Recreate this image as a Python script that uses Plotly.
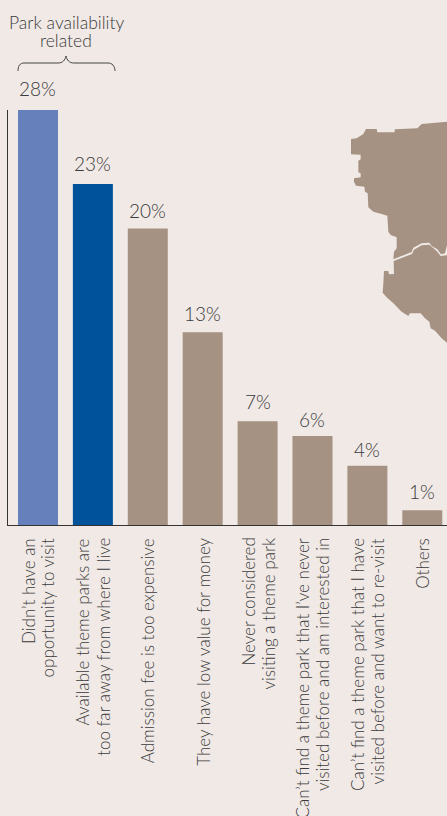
import plotly.graph_objects as go

categories = ["Didn’t have an<br>opportunity to visit",
              "Available theme parks are<br>too far away from where I live",
              "Admission fee is too expensive",
              "They have low value for money",
              "Never considered<br>visiting a theme park",
              "Can’t find a theme park that I’ve never<br>visited before and am interested in",
              "Can’t find a theme park that I have<br>visited before and want to re-visit",
              "Others"]
values = [28, 23, 20, 13, 7, 6, 4, 1]
colors = ["#6580BB", "#00529B", "#A69282", "#A69282", "#A69282", "#A69282", "#A69282", "#A69282"]
title_lines = ["Park availability", "related"]
label_gaps = [8, 7, 5, 5, 6, 3, 3, 5]
BG = "#F0E9E6"
FONT = "Lato Light, Lato, sans-serif"
TXT = "#3A3A3A"

# decorative map outline, in reference-crop units
map_north = [(321,5),(245,12),(232,25),(165,28),(163,37),(112,37),(110,27),(78,27),(70,42),(50,55),(33,57),(33,103),
             (62,104),(62,118),(55,122),(55,157),(62,160),(62,172),(42,175),(42,185),(48,197),(73,200),(75,215),(83,220),
             (85,262),(100,275),(125,282),(142,287),(145,335),(152,345),(170,352),(170,385),(162,395),(160,418),
             (215,396),(220,383),(245,370),(268,368),(275,378),(292,388),(303,403),(315,400),(321,375)]
map_south = [(161,423),(216,402),(222,389),(245,376),(268,374),(290,393),(302,408),(321,406),(321,668),(305,655),
             (285,632),(272,625),(268,605),(255,595),(242,580),(210,580),(205,588),(185,575),(160,550),(140,532),
             (128,518),(130,490),(132,453),(145,453),(147,463),(162,462)]

L, R, T, B = 8, 447, 110, 525
W, H = 447, 816
def px(x, y):
    return f"{(x-L)/(R-L):.5f} {(B-y)/(B-T):.5f}"
def crop_path(pts):
    return "M " + " L ".join(px(340+a/3, 120+b/3).replace(" ", ",") for a, b in pts) + " Z"
def P(x, y):
    return px(x, y).replace(" ", ",")

brace = (f"M {P(18,71)} C {P(18,66)} {P(20,63)} {P(24,63)} L {P(58,63)} C {P(63,63)} {P(65,60)} {P(66,56)} "
         f"C {P(67,60)} {P(69,63)} {P(74,63)} L {P(108,63)} C {P(112,63)} {P(115,66)} {P(115,71)}")

fig = go.Figure(go.Bar(
    x=list(range(len(values))), y=values, marker_color=colors, marker_line_width=0, width=0.7286))

shapes = [dict(type="path", xref="paper", yref="paper", path=crop_path(p), fillcolor="#A69282", line_width=0, layer="below")
          for p in (map_north, map_south)]
shapes.append(dict(type="path", xref="paper", yref="paper", path=brace, line=dict(color="#444444", width=1)))

annotations = []
for i, v in enumerate(values):
    annotations.append(dict(text=f"{v}%", x=i, y=v, xref="x", yref="y", showarrow=False, xanchor="center",
                            yanchor="bottom", yshift=label_gaps[i], font=dict(size=19, color=TXT, family=FONT)))
for i, cat in enumerate(categories):
    lines = cat.split("<br>")
    for j, line in enumerate(lines):
        annotations.append(dict(text=line, x=i, y=0, xref="x", yref="y", showarrow=False, textangle=-90,
                                xanchor="center", yanchor="top", yshift=-11,
                                xshift=(j - (len(lines)-1)/2) * 20,
                                font=dict(size=17, color=TXT, family=FONT)))
for k, line in enumerate(title_lines):
    annotations.append(dict(text=line, xref="paper", yref="paper", x=(66-L)/(R-L), y=(B-(23+18*k))/(B-T),
                            showarrow=False, xanchor="center", yanchor="middle",
                            font=dict(size=17.5, color=TXT, family=FONT)))

fig.update_layout(
    width=W, height=H, margin=dict(l=L, r=W-R, t=T, b=H-B, autoexpand=False),
    paper_bgcolor=BG, plot_bgcolor="rgba(0,0,0,0)", showlegend=False, shapes=shapes, annotations=annotations,
    font=dict(family=FONT, color=TXT),
    xaxis=dict(range=[-0.546, 7.45], tickvals=[], ticks="", showgrid=False, zeroline=False, showline=True,
               linecolor="#333333", linewidth=1, automargin=False),
    yaxis=dict(range=[0, 28], showticklabels=False, ticks="", showgrid=False, zeroline=False,
               showline=True, linecolor="#333333", linewidth=1, automargin=False),
)
fig.write_html("out.html", config=dict(displayModeBar=False),
               post_script="document.body.style.margin='0';document.body.style.background='#F0E9E6';")
